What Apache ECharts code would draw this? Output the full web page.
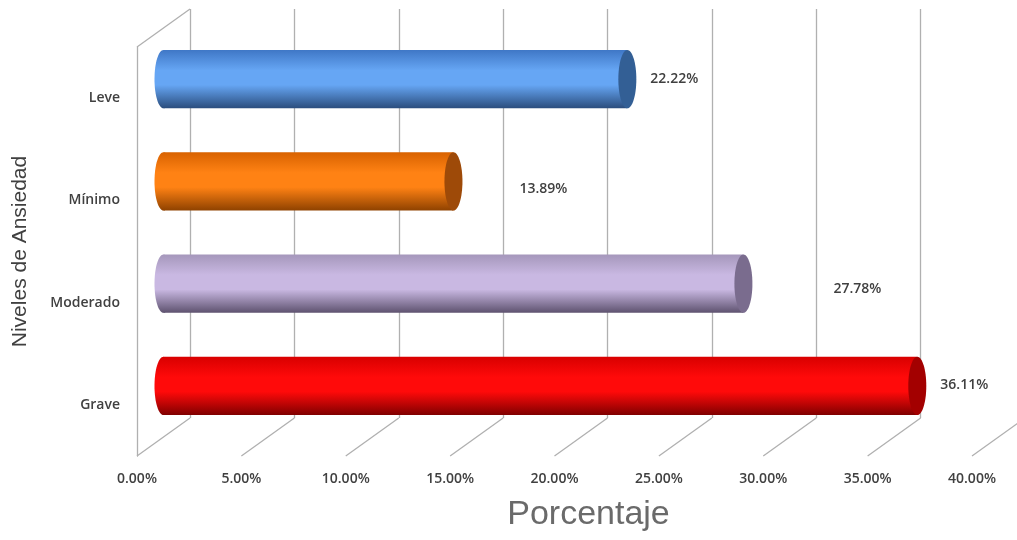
<!DOCTYPE html>
<html>
<head>
<meta charset="utf-8">
<script src="https://cdn.jsdelivr.net/npm/echarts@6/dist/echarts.min.js"></script>
<style>
html,body{margin:0;padding:0;background:#fff;}
#chart{width:1017px;height:540px;}
</style>
</head>
<body>
<div id="chart"></div>
<script>
// ---- data ----
const categories = ['Leve', 'Mínimo', 'Moderado', 'Grave'];
const values = [22.22, 13.89, 27.78, 36.11];
const xTicks = [0, 5, 10, 15, 20, 25, 30, 35, 40];
const xAxisTitle = 'Porcentaje';
const yAxisTitle = 'Niveles de Ansiedad';

// ---- styling ----
const palettes = [
  {top:'#3f77c6', mid:'#66a6f4', bot:'#2b4d7d', cap:'#335f95'},
  {top:'#d86200', mid:'#ff8214', bot:'#8f4200', cap:'#9e4a08'},
  {top:'#a597bb', mid:'#c9b8e2', bot:'#5e526f', cap:'#7a6c8e'},
  {top:'#d80000', mid:'#ff0a0a', bot:'#800000', cap:'#a30000'}
];
const labelShift = [[23, 0], [66, 8], [90, 5], [23, -1]];
const DX = 53, DY = 38;       // depth of the 3D box
const W = 835, H = 409;
const gridLine = '#b0b0b0';
const lblFont = {color: '#404040', fontSize: 14, fontFamily: 'Open Sans', fontWeight: 600};

const chart = echarts.init(document.getElementById('chart'));

const option = {
  backgroundColor: '#ffffff',
  animation: false,
  grid: [
    {left: 137 + DX, top: 47 - DY, width: W, height: H, outerBoundsMode: 'none', containLabel: false},
    {left: 137 + DX / 2, top: 47 - DY / 2, width: W, height: H, outerBoundsMode: 'none', containLabel: false},
    {left: 137, top: 47, width: W, height: H, outerBoundsMode: 'none', containLabel: false}
  ],
  xAxis: [
    {gridIndex: 0, type: 'value', min: 0, max: 40, interval: 5,
     axisLine: {show: false}, axisTick: {show: false}, axisLabel: {show: false},
     splitLine: {show: true, lineStyle: {color: gridLine, width: 1.3}}},
    {gridIndex: 1, type: 'value', min: 0, max: 40, interval: 5, show: false},
    {gridIndex: 2, type: 'value', min: 0, max: 40, interval: 5,
     axisLine: {show: false}, axisTick: {show: false}, splitLine: {show: false},
     axisLabel: Object.assign({show: true, margin: 16,
       formatter: v => v.toFixed(2) + '%'}, lblFont),
     name: xAxisTitle, nameLocation: 'middle', nameGap: 42,
     nameTextStyle: {fontSize: 34, color: '#6a6a6a', fontFamily: 'Liberation Sans',
       padding: [0, 0, 0, 68]}}
  ],
  yAxis: [
    {gridIndex: 0, type: 'category', data: categories, inverse: true, show: false},
    {gridIndex: 1, type: 'category', data: categories, inverse: true, show: false},
    {gridIndex: 2, type: 'category', data: categories, inverse: true,
     axisLine: {show: true, lineStyle: {color: gridLine, width: 1.3}},
     axisTick: {show: false}, splitLine: {show: false},
     axisLabel: Object.assign({margin: 17}, lblFont),
     name: yAxisTitle, nameLocation: 'middle', nameGap: 106, nameRotate: 90,
     nameTextStyle: {fontSize: 21, color: '#404040', fontFamily: 'Liberation Sans'}}
  ],
  series: [
    // floor diagonals + left wall top edge
    {
      type: 'custom', xAxisIndex: 2, yAxisIndex: 2, silent: true, z: 1,
      data: xTicks.map(t => [t]),
      renderItem: function (params, api) {
        const cs = params.coordSys;
        const p = api.coord([api.value(0), 0]);
        const bottom = cs.y + cs.height;
        const children = [{
          type: 'line',
          shape: {x1: p[0], y1: bottom, x2: p[0] + DX, y2: bottom - DY},
          style: {stroke: gridLine, lineWidth: 1.3}
        }];
        if (params.dataIndex === 0) {
          children.push({
            type: 'line',
            shape: {x1: cs.x, y1: cs.y, x2: cs.x + DX, y2: cs.y - DY},
            style: {stroke: gridLine, lineWidth: 1.3}
          });
        }
        return {type: 'group', children: children};
      }
    },
    // cylinders
    {
      type: 'custom', xAxisIndex: 1, yAxisIndex: 1, z: 5,
      data: values.map((v, i) => [v, i]),
      renderItem: function (params, api) {
        const i = api.value(1);
        const v = api.value(0);
        const s = api.coord([0, i]);
        const e = api.coord([v, i]);
        const h = api.size([0, 1])[1] * 0.57;
        const rx = 9, ry = h / 2;
        const pal = palettes[i];
        const grad = new echarts.graphic.LinearGradient(0, 0, 0, 1, [
          {offset: 0, color: pal.top},
          {offset: 0.35, color: pal.mid},
          {offset: 0.6, color: pal.mid},
          {offset: 1, color: pal.bot}
        ]);
        const sh = labelShift[i];
        return {
          type: 'group',
          children: [
            {type: 'ellipse', shape: {cx: s[0], cy: s[1], rx: rx, ry: ry}, style: {fill: grad}},
            {type: 'rect', shape: {x: s[0], y: s[1] - ry, width: e[0] - s[0], height: h}, style: {fill: grad}},
            {type: 'ellipse', shape: {cx: e[0], cy: e[1], rx: rx, ry: ry}, style: {fill: pal.cap}},
            {type: 'text', x: e[0] + sh[0], y: e[1] + sh[1],
             style: {text: v.toFixed(2) + '%', fill: lblFont.color,
                     fontSize: lblFont.fontSize, fontFamily: lblFont.fontFamily,
                     fontWeight: lblFont.fontWeight,
                     align: 'left', verticalAlign: 'middle'}}
          ]
        };
      }
    }
  ]
};
chart.setOption(option);
</script>
</body>
</html>
